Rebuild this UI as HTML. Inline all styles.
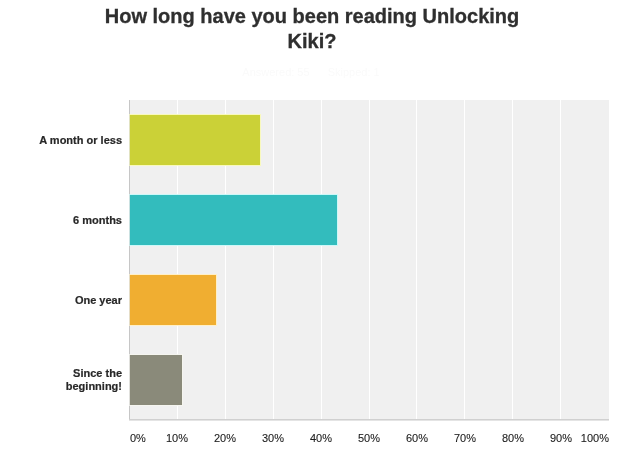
<!DOCTYPE html>
<html lang="en">
<head>
<meta charset="utf-8">
<title>How long have you been reading Unlocking Kiki?</title>
<style>
  html, body { margin: 0; padding: 0; background: #ffffff; }
  body { width: 636px; height: 470px; position: relative; overflow: hidden;
         font-family: "Liberation Sans", Arial, Helvetica, sans-serif; color: #333333; }
  .title { position: absolute; left: 62px; top: 4px; width: 500px; text-align: center;
           font-size: 20px; line-height: 25px; font-weight: bold; color: #2f2f2f; -webkit-text-stroke: 0.3px #2f2f2f; }
  .sub { position: absolute; left: 61px; top: 65px; width: 500px; text-align: center;
         font-size: 11px; line-height: 14px; color: #fafafa; }
  .sub span + span { margin-left: 15px; }
  .plot { position: absolute; left: 130px; top: 100px; width: 479px; height: 319px; background: #f0f0f0; }
  .yaxis { position: absolute; left: 129px; top: 100px; width: 1px; height: 320px; background: #c6c6c6; }
  .xaxis { position: absolute; left: 129px; top: 419px; width: 480px; height: 1px; background: #d0d0d0; border-bottom: 1px solid #e4e4e4; }
  .grid { position: absolute; top: 0; width: 1px; height: 319px; background: #ffffff; }
  .bar { position: absolute; left: -1px; height: 50px; border: 1px solid #fff; background-clip: padding-box; }
  .cat { position: absolute; left: 0; width: 122px; text-align: right; font-size: 11px; line-height: 13px;
         font-weight: bold; color: #282828; -webkit-text-stroke: 0.2px #282828; }
  .tick { position: absolute; top: 432px; width: 40px; text-align: center; font-size: 11px; line-height: 13px; color: #1c1c1c; -webkit-text-stroke: 0.1px #1c1c1c; }
</style>
</head>
<body>
  <div class="title">How long have you been reading Unlocking<br>Kiki?</div>
  <div class="sub"><span>Answered: 55</span> <span>Skipped: 1</span></div>

  <div class="yaxis"></div>
  <div class="xaxis"></div>
  <div class="plot">
    <div class="grid" style="left:47px"></div>
    <div class="grid" style="left:95px"></div>
    <div class="grid" style="left:143px"></div>
    <div class="grid" style="left:191px"></div>
    <div class="grid" style="left:239px"></div>
    <div class="grid" style="left:286px"></div>
    <div class="grid" style="left:334px"></div>
    <div class="grid" style="left:382px"></div>
    <div class="grid" style="left:430px"></div>
    <div class="bar" style="top:14px; width:130px; background-color:#cbd137; border-color:#f8f9be; border-left-color:rgba(248,249,190,0.55);"></div>
    <div class="bar" style="top:94px; width:207px; background-color:#33bcbd; border-color:#cdf8f8; border-left-color:rgba(205,248,248,0.55);"></div>
    <div class="bar" style="top:174px; width:86px; background-color:#f0ae31; border-color:#fff0c8; border-left-color:rgba(255,240,200,0.55);"></div>
    <div class="bar" style="top:254px; width:52px; background-color:#8a8a7a; border-color:#f5f5ef; border-left-color:rgba(245,245,239,0.55);"></div>
  </div>

  <div class="cat" style="top:134px">A month or less</div>
  <div class="cat" style="top:214px">6 months</div>
  <div class="cat" style="top:294px">One year</div>
  <div class="cat" style="top:367px">Since the<br>beginning!</div>

  <div class="tick" style="left:130px; width:auto; text-align:left">0%</div>
  <div class="tick" style="left:157px">10%</div>
  <div class="tick" style="left:205px">20%</div>
  <div class="tick" style="left:253px">30%</div>
  <div class="tick" style="left:301px">40%</div>
  <div class="tick" style="left:349px">50%</div>
  <div class="tick" style="left:397px">60%</div>
  <div class="tick" style="left:445px">70%</div>
  <div class="tick" style="left:493px">80%</div>
  <div class="tick" style="left:541px">90%</div>
  <div class="tick" style="left:auto; right:27px; width:auto; text-align:right">100%</div>
</body>
</html>
